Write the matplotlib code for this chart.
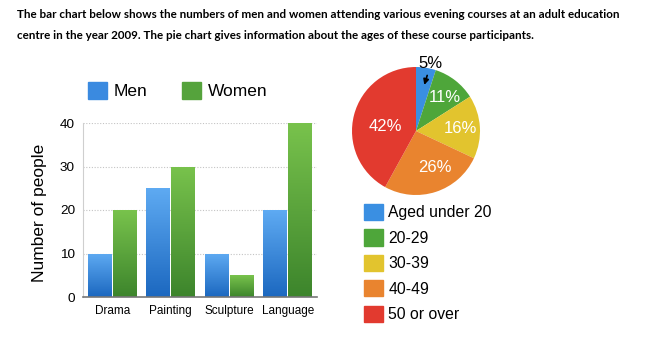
import matplotlib.pyplot as plt
from matplotlib.patches import Patch
from matplotlib.colors import LinearSegmentedColormap
import numpy as np

plt.rcParams["font.family"] = ["Liberation Sans", "DejaVu Sans"]

# data
courses = ["Drama", "Painting", "Sculpture", "Language"]
men = [10, 25, 10, 20]
women = [20, 30, 5, 40]

age_groups = ["Aged under 20", "20-29", "30-39", "40-49", "50 or over"]
age_share = [5, 11, 16, 26, 42]

title = ("The bar chart below shows the numbers of men and women attending various evening courses at an adult education\n"
         "centre in the year 2009. The pie chart gives information about the ages of these course participants.")

W, H = 647, 353
fig = plt.figure(figsize=(W / 100, H / 100), dpi=100)


def px_box(x0, y0, x1, y1):
    # pixel box (top-left origin) -> figure fraction rect
    return [x0 / W, 1 - y1 / H, (x1 - x0) / W, (y1 - y0) / H]


fig.text(17 / W, 1 - 25 / H, title, ha="left", va="center", fontsize=8.4,
         fontweight="bold", family=["Lato", "DejaVu Sans"], linespacing=2.05)

# ---- bar chart ----
ax = fig.add_axes(px_box(83, 123, 317, 297))
x = np.arange(len(courses))
bw = 0.405
men_bars = ax.bar(x - 0.215, men, bw, color="#3a8ae0")
women_bars = ax.bar(x + 0.215, women, bw, color="#55a33c")

# vertical gradient inside each bar
grad_men = LinearSegmentedColormap.from_list("m", ["#1c68c0", "#5eaaf2"])
grad_women = LinearSegmentedColormap.from_list("w", ["#3d852c", "#78c24c"])
ramp = np.linspace(0, 1, 64).reshape(-1, 1)
for bars, cm in [(men_bars, grad_men), (women_bars, grad_women)]:
    for b in bars:
        bx, by = b.get_x(), b.get_y()
        im = ax.imshow(ramp, cmap=cm, origin="lower", aspect="auto",
                       extent=[bx, bx + b.get_width(), by, by + b.get_height()],
                       zorder=b.get_zorder() + 0.1)
        im.set_clip_path(b)

ax.set_xlim(-0.5, 3.5)
ax.set_ylim(0, 40)
ax.set_yticks([0, 10, 20, 30, 40])
ax.set_xticks(x)
ax.set_xticklabels(courses, fontsize=8.5)
ax.tick_params(axis="y", labelsize=9.7, length=0, pad=5.8)
ax.tick_params(axis="x", length=0, pad=6)
ax.yaxis.grid(True, color="#c4c4c4", linestyle=(0, (1, 1.5)), linewidth=0.8)
ax.set_axisbelow(True)
for s in ["top", "right"]:
    ax.spines[s].set_visible(False)
ax.spines["left"].set_color("#cfcfcf")
ax.spines["bottom"].set_color("#777777")
ax.spines["bottom"].set_linewidth(1.2)
ax.set_ylabel("Number of people", fontsize=12.5)
ax.yaxis.set_label_coords(47 / W, 1 - 213 / H, transform=fig.transFigure)

fig.legend(handles=[Patch(color="#3a8ae0"), Patch(color="#55a33c")],
           labels=["Men", "Women"], ncol=2, frameon=False, fontsize=12.5,
           loc="center left", bbox_to_anchor=(88 / W, 1 - 90.5 / H),
           borderpad=0, borderaxespad=0, handlelength=1.1, handleheight=1.1,
           handletextpad=0.4, columnspacing=1.95)

# ---- pie chart ----
pie_colors = ["#3a8fe2", "#4ea63a", "#e2c42e", "#e9842f", "#e23a2f"]
pax = fig.add_axes(px_box(352, 67, 480, 195))
wedges, _ = pax.pie(age_share, colors=pie_colors, startangle=90,
                    counterclock=False, radius=1.0)
pax.set_aspect("equal")
pax.set_xlim(-1, 1)
pax.set_ylim(-1, 1)

label_r = [None, 0.70, 0.69, 0.64, 0.49]
label_shift = [0, -3, 0, 10, 7]
for w, share, r, dang in zip(wedges, age_share, label_r, label_shift):
    if r is None:
        continue
    ang = np.deg2rad((w.theta1 + w.theta2) / 2 + dang)
    pax.text(r * np.cos(ang), r * np.sin(ang), f"{share}%", color="white",
             fontsize=12, ha="center", va="center")

# smallest slice labelled outside with an arrow
pax.annotate(f"{age_share[0]}%", xy=(0.13, 0.72), xytext=(0.23, 1.05),
             fontsize=12, ha="center", va="center", annotation_clip=False,
             arrowprops=dict(arrowstyle="-|>", color="black", lw=1.2,
                             mutation_scale=8, shrinkA=1, shrinkB=0))

fig.legend(handles=[Patch(color=c) for c in pie_colors], labels=age_groups,
           frameon=False, fontsize=11.3, loc="upper left",
           bbox_to_anchor=(364 / W, 1 - 204 / H), borderpad=0, borderaxespad=0,
           handlelength=1.2, handleheight=1.2, handletextpad=0.35,
           labelspacing=0.58)

fig.savefig("out.png", dpi=100)
